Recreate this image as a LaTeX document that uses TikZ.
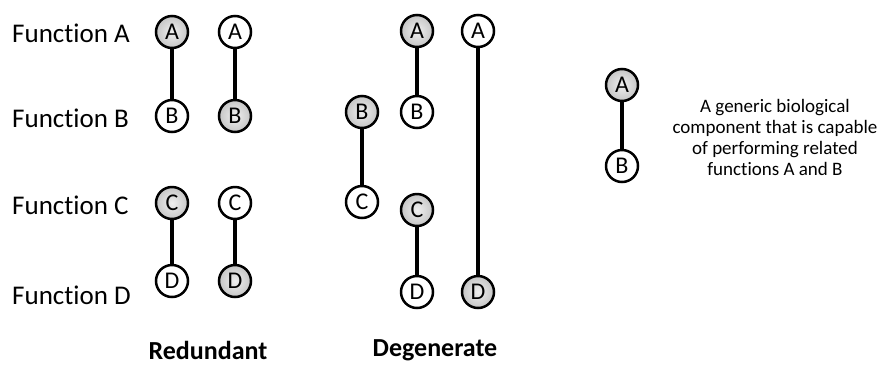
\documentclass[tikz,border=0pt]{standalone}
\usepackage{fontspec}
\setmainfont[Ligatures=NoCommon]{Carlito}
\usetikzlibrary{positioning}
\tikzstyle{gcomp} = [circle, draw=black, line width=2.5pt, minimum size=32pt, inner sep=0pt, shading=radial, inner color=gray!12, outer color=gray!45, font=\fontsize{24}{24}\selectfont]
\tikzstyle{wcomp} = [circle, draw=black, line width=2.5pt, minimum size=32pt, inner sep=0pt, fill=white, font=\fontsize{24}{24}\selectfont]
\tikzstyle{link} = [line width=3.8pt]
\tikzset{
	funlabel/.style = {anchor=west, inner sep=0pt, font=\fontsize{27}{27}\selectfont},
	grouplabel/.style = {inner sep=0pt, font=\fontsize{26}{26}\selectfont\bfseries}
}

\begin{document}
\begin{tikzpicture}[x=1pt, y=-1pt]
\useasboundingbox (0,0) rectangle (877,365);
%----------------------------------------------------------------------------
% Row labels
\node (funA) [funlabel] at (12,33) {Function A};
\node (funB) [funlabel] at (12,118) {Function B};
\node (funC) [funlabel] at (12,205) {Function C};
\node (funD) [funlabel] at (12,295) {Function D};

%----------------------------------------------------------------------------
% Redundant components
\node (redA1) [gcomp] at (172,32) {A};
\node (redB1) [wcomp] at (172,116) {B};
\node (redA2) [wcomp] at (235,32) {A};
\node (redB2) [gcomp] at (235,116) {B};
\node (redC1) [gcomp] at (172,203) {C};
\node (redD1) [wcomp] at (172,281) {D};
\node (redC2) [wcomp] at (235,203) {C};
\node (redD2) [gcomp] at (235,281) {D};

% Degenerate components
\node (degB1) [gcomp] at (362,112) {B};
\node (degC1) [wcomp] at (362,202) {C};
\node (degA2) [gcomp] at (417,31) {A};
\node (degB2) [wcomp] at (417,112) {B};
\node (degC2) [gcomp] at (417,210) {C};
\node (degD2) [wcomp] at (417,292) {D};
\node (degA3) [wcomp] at (478,31) {A};
\node (degD3) [gcomp] at (478,292) {D};

% Legend
\node (legA) [gcomp] at (622,85) {A};
\node (legB) [wcomp] at (622,166) {B};
\node (legText) [align=center, inner sep=0pt, font=\fontsize{19}{21}\selectfont] at (775,137) {A generic biological\\component that is capable\\of performing related\\functions A and B};

%----------------------------------------------------------------------------
% Group labels
\node (redLabel) [grouplabel] at (208,350) {Redundant};
\node (degLabel) [grouplabel] at (435,350) {Degenerate};

%----------------------------------------------------------------------------
% Lines
\draw [link] (redA1) -- (redB1);
\draw [link] (redA2) -- (redB2);
\draw [link] (redC1) -- (redD1);
\draw [link] (redC2) -- (redD2);

\draw [link] (degB1) -- (degC1);
\draw [link] (degA2) -- (degB2);
\draw [link] (degC2) -- (degD2);
\draw [link] (degA3) -- (degD3);

\draw [link] (legA) -- (legB);

\end{tikzpicture}
\end{document}
